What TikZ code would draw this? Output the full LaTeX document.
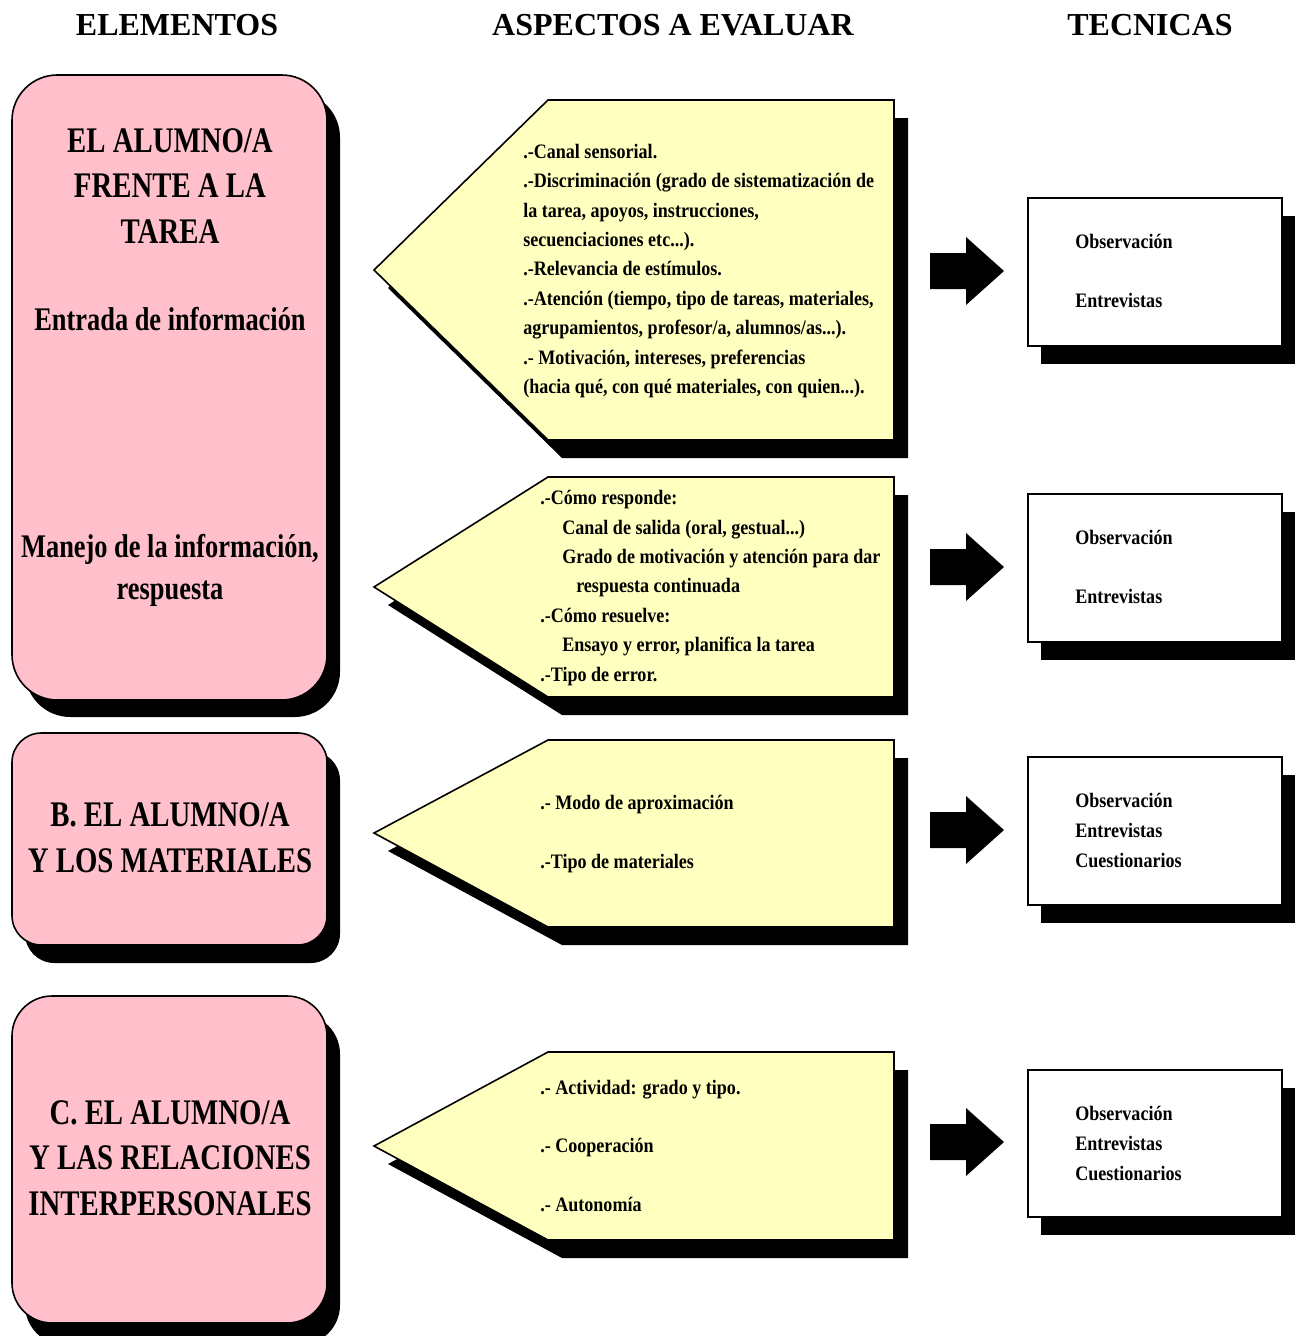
\documentclass[tikz,border=0pt]{standalone}
\usepackage{fontspec}
\setmainfont{Liberation Serif}
\newfontfamily\hdrfont{Liberation Serif}
\newfontfamily\pinkfont[FakeStretch=0.8]{Liberation Serif}
\newfontfamily\txtfont[FakeStretch=0.88]{Liberation Serif}
\definecolor{pinkfill}{RGB}{255,192,203}
\definecolor{yellowfill}{RGB}{255,255,192}
\tikzset{
  hdr/.style={font=\hdrfont\bfseries\fontsize{24}{28}\selectfont, inner sep=0pt},
  pinkcaps/.style={font=\pinkfont\bfseries\fontsize{27}{34.2}\selectfont, align=center, inner sep=0pt},
  pinklow/.style={font=\pinkfont\bfseries\fontsize{24.75}{31.5}\selectfont, align=center, inner sep=0pt},
  aspect/.style={font=\txtfont\bfseries\fontsize{15.4}{22.1}\selectfont, align=left, inner sep=0pt, anchor=west},
  tech/.style={font=\txtfont\bfseries\fontsize{15.4}{22.5}\selectfont, align=left, inner sep=0pt, anchor=west},
  pinkbox/.style={fill=pinkfill, draw=black, line width=1.2pt},
  yellowbox/.style={fill=yellowfill, draw=black, line width=1.2pt},
  whitebox/.style={fill=white, draw=black, line width=1.4pt},
  shadowfill/.style={fill=black},
  blockarrow/.style={fill=black}
}
\begin{document}
\begin{tikzpicture}[x=0.75pt,y=-0.75pt]
\useasboundingbox (0,0) rectangle (1301,1336);

% headers
\node[hdr] (h1) at (177,25) {ELEMENTOS};
\node[hdr] (h2) at (673,25) {ASPECTOS A EVALUAR};
\node[hdr] (h3) at (1150,25) {TECNICAS};

% pink boxes
\fill[shadowfill, rounded corners=34pt] (25,92) rectangle (340,717);
\draw[pinkbox, rounded corners=34pt] (12,75) rectangle (327,700);
\fill[shadowfill, rounded corners=22pt] (25,751) rectangle (340,963);
\draw[pinkbox, rounded corners=22pt] (12,733) rectangle (327,945);
\fill[shadowfill, rounded corners=30pt] (25,1014) rectangle (340,1345);
\draw[pinkbox, rounded corners=30pt] (12,996) rectangle (327,1323);

\node[pinkcaps] (pA) at (170,186) {EL ALUMNO/A\\FRENTE A LA\\TAREA};
\node[pinklow] (pA2) at (170,319) {Entrada de información};
\node[pinklow] (pA3) at (170,570) {Manejo de la información,\\respuesta};
\node[pinkcaps] (pB) at (170,838) {B. EL ALUMNO/A\\Y LOS MATERIALES};
\node[pinkcaps] (pC) at (170,1158) {C. EL ALUMNO/A\\Y LAS RELACIONES\\INTERPERSONALES};

% yellow pentagons
\fill[shadowfill] (562,118) -- (908,118) -- (908,458) -- (562,458) -- (388,288) -- cycle;
\draw[yellowbox] (548,100) -- (894,100) -- (894,440) -- (548,440) -- (374,270) -- cycle;
\fill[shadowfill] (562,495) -- (908,495) -- (908,715) -- (562,715) -- (388,605) -- cycle;
\draw[yellowbox] (548,477) -- (894,477) -- (894,697) -- (548,697) -- (374,587) -- cycle;
\fill[shadowfill] (562,758) -- (908,758) -- (908,945) -- (562,945) -- (388,851) -- cycle;
\draw[yellowbox] (548,740) -- (894,740) -- (894,927) -- (548,927) -- (374,833) -- cycle;
\fill[shadowfill] (562,1070) -- (908,1070) -- (908,1258) -- (562,1258) -- (388,1164) -- cycle;
\draw[yellowbox] (548,1052) -- (894,1052) -- (894,1240) -- (548,1240) -- (374,1146) -- cycle;

\node[aspect] (a1) at (523,271) {.-Canal sensorial.\\
.-Discriminación (grado de sistematización de\\
la tarea, apoyos, instrucciones,\\
secuenciaciones etc...).\\
.-Relevancia de estímulos.\\
.-Atención (tiempo, tipo de tareas, materiales,\\
agrupamientos, profesor/a, alumnos/as...).\\
.- Motivación, intereses, preferencias\\
(hacia qué, con qué materiales, con quien...).};

\node[aspect] (a2) at (540,588) {.-Cómo responde:\\
\hspace*{16.5pt}Canal de salida (oral, gestual...)\\
\hspace*{16.5pt}Grado de motivación y atención para dar\\
\hspace*{27pt}respuesta continuada\\
.-Cómo resuelve:\\
\hspace*{16.5pt}Ensayo y error, planifica la tarea\\
.-Tipo de error.};

\node[aspect] (a3) at (540,834) {.- Modo de aproximación\\[22pt]
.-Tipo de materiales};

\node[aspect] (a4) at (540,1146) {.- Actividad: grado y tipo.\\[22pt]
.- Cooperación\\[22pt]
.- Autonomía};

% block arrows
\fill[blockarrow] (930,253) -- (966,253) -- (966,237) -- (1004,271) -- (966,305) -- (966,289) -- (930,289) -- cycle;
\fill[blockarrow] (930,549) -- (966,549) -- (966,533) -- (1004,567) -- (966,601) -- (966,585) -- (930,585) -- cycle;
\fill[blockarrow] (930,812) -- (966,812) -- (966,796) -- (1004,830) -- (966,864) -- (966,848) -- (930,848) -- cycle;
\fill[blockarrow] (930,1124) -- (966,1124) -- (966,1108) -- (1004,1142) -- (966,1176) -- (966,1160) -- (930,1160) -- cycle;

% white boxes
\fill[shadowfill] (1041,216) rectangle (1295,364);
\draw[whitebox] (1028,198) rectangle (1282,346);
\fill[shadowfill] (1041,512) rectangle (1295,660);
\draw[whitebox] (1028,494) rectangle (1282,642);
\fill[shadowfill] (1041,775) rectangle (1295,923);
\draw[whitebox] (1028,757) rectangle (1282,905);
\fill[shadowfill] (1041,1088) rectangle (1295,1235);
\draw[whitebox] (1028,1070) rectangle (1282,1217);

\node[tech] (t1) at (1075,271) {Observación\\[22pt]Entrevistas};
\node[tech] (t2) at (1075,567) {Observación\\[22pt]Entrevistas};
\node[tech] (t3) at (1075,830) {Observación\\Entrevistas\\Cuestionarios};
\node[tech] (t4) at (1075,1143) {Observación\\Entrevistas\\Cuestionarios};
\end{tikzpicture}
\end{document}
